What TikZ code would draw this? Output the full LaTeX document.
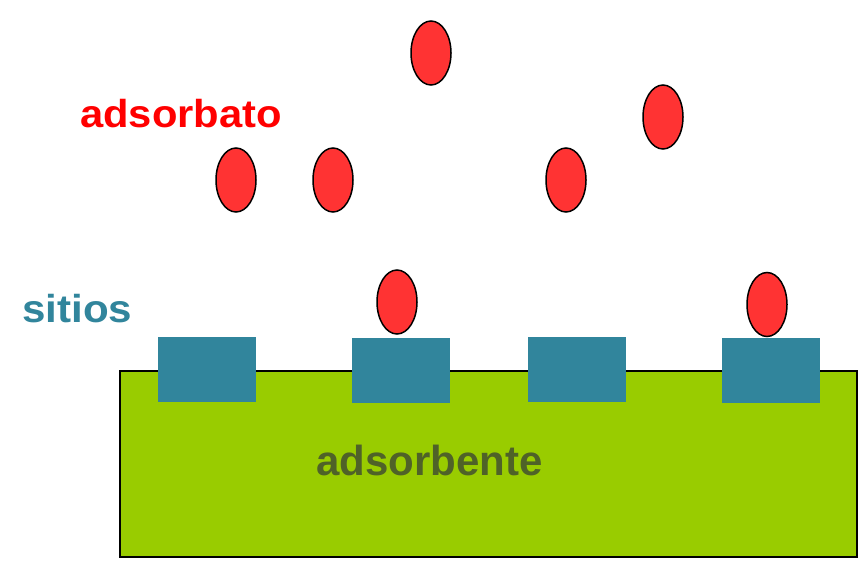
\documentclass[tikz,border=0pt]{standalone}
\usepackage{fontspec}
\setmainfont{Liberation Sans}
\usetikzlibrary{shapes.geometric}
\definecolor{molred}{RGB}{255,51,51}
\definecolor{siteteal}{RGB}{49,133,156}
\definecolor{baseGreen}{RGB}{153,204,0}
\definecolor{darkolive}{RGB}{79,98,40}
\tikzset{
  molecule/.style={ellipse, draw=black, line width=1.5pt, fill=molred, minimum width=40pt, minimum height=64pt, inner sep=0pt},
  sitebox/.style={rectangle, fill=siteteal, minimum width=98pt, minimum height=65pt, inner sep=0pt},
  lbl/.style={inner sep=0pt, anchor=base west, font=\bfseries}
}
\begin{document}
\begin{tikzpicture}[x=1pt,y=-1pt]
\useasboundingbox (0,0) rectangle (858,560);
\fill[white] (0,0) rectangle (858,560);
% adsorbent body
\node[rectangle, draw=black, line width=2pt, fill=baseGreen, minimum width=737pt, minimum height=186pt, inner sep=0pt] (body) at (488,463.5) {};
% sites
\node[sitebox] (s1) at (207,369.5) {};
\node[sitebox] (s2) at (401,370.5) {};
\node[sitebox] (s3) at (576.5,369.5) {};
\node[sitebox] (s4) at (770.5,370) {};
% molecules
\node[molecule] (m1) at (431,53) {};
\node[molecule] (m2) at (663,117) {};
\node[molecule] (m3) at (236,180) {};
\node[molecule] (m4) at (333,180) {};
\node[molecule] (m5) at (566,180) {};
\node[molecule] (m6) at (397,302) {};
\node[molecule] (m7) at (767,304.5) {};
% labels
\node[lbl, text=red, font=\fontsize{39}{42}\selectfont\bfseries] (tads) at (80,127.5) {\scalebox{1.07}[1]{adsorbato}};
\node[lbl, text=siteteal, font=\fontsize{39}{42}\selectfont\bfseries] (tsit) at (22,322) {\scalebox{1.08}[1]{sitios}};
\node[lbl, text=darkolive, font=\fontsize{42}{45}\selectfont\bfseries] (tabs) at (316,475) {adsorbente};
\end{tikzpicture}
\end{document}
